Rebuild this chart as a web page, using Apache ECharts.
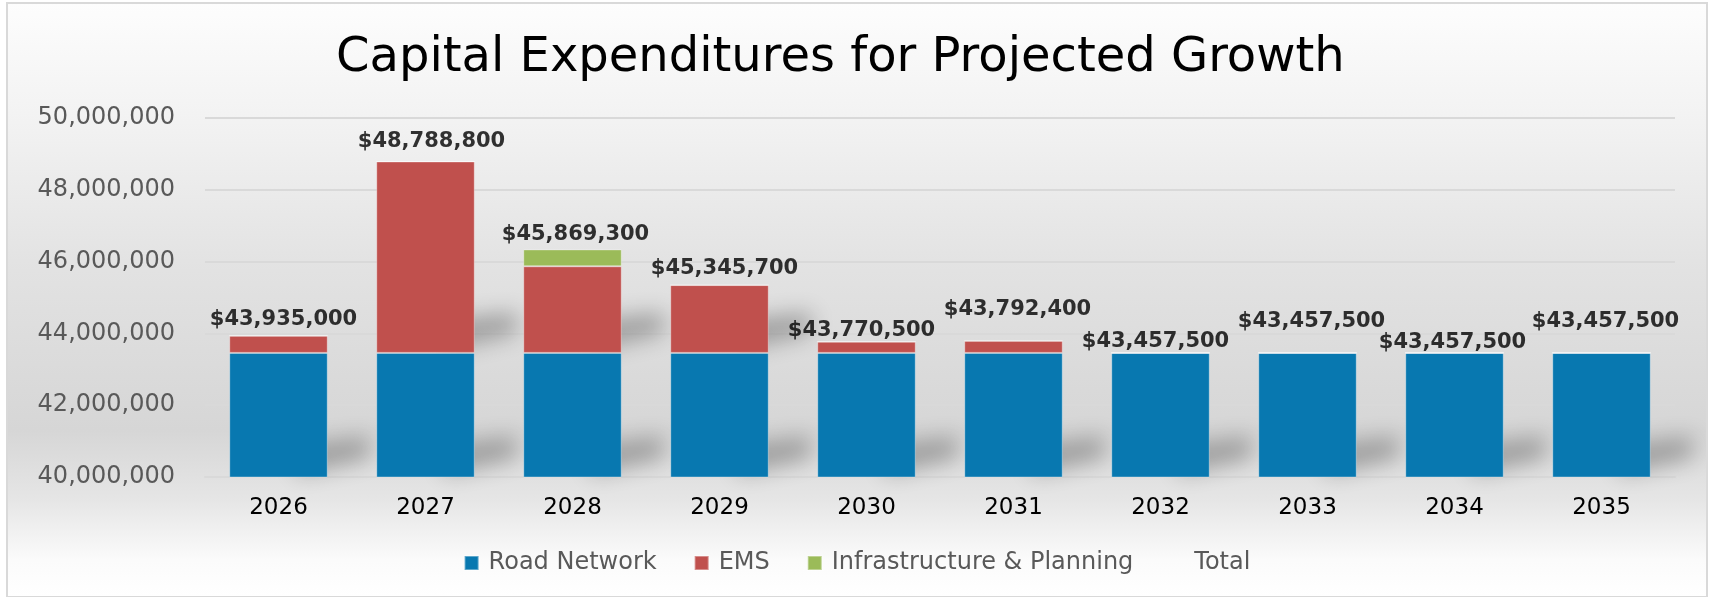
<!DOCTYPE html>
<html>
<head>
<meta charset="utf-8">
<script src="https://cdn.jsdelivr.net/npm/echarts@6/dist/echarts.min.js"></script>
<style>
  html, body { margin: 0; padding: 0; background: #fff; }
  #chart {
    position: absolute; left: 6px; top: 2px; width: 1698px; height: 592px;
    border: 2px solid #d9d9d9;
    background: linear-gradient(to bottom, #fdfdfd 0%, #f2f2f2 20%, #e2e2e2 45%, #d6d6d6 72%, #e6e6e6 84%, #fbfbfb 94%, #ffffff 100%);
  }
</style>
</head>
<body>
<div id="chart"></div>
<script>
// 年份与各类支出
const years = ['2026', '2027', '2028', '2029', '2030', '2031', '2032', '2033', '2034', '2035'];
const roadNetwork = [43457500, 43457500, 43457500, 43457500, 43457500, 43457500, 43457500, 43457500, 43457500, 43457500];
const ems = [477500, 5331300, 2411800, 1888200, 313000, 334900, 0, 0, 0, 0];
const infrastructure = [0, 0, 470000, 0, 0, 0, 0, 0, 0, 0];
const totals = [43935000, 48788800, 45869300, 45345700, 43770500, 43792400, 43457500, 43457500, 43457500, 43457500];

// 标签微调 (Excel 自动排版的位置)
const labelNudge = [[5, 0], [6, -3], [3, -15], [5, 0], [-5, 5], [4, -15], [-5, 5], [4, -15], [-2, 6], [4, -15]];

const fmt = v => v.toLocaleString('en-US');
const axisMin = 40000000;

// 阴影: 每个较高的柱段底部投下的斜影
const shadowSegs = [];
years.forEach((y, i) => {
  shadowSegs.push([i, axisMin]);
  if (ems[i] > 1000000) shadowSegs.push([i, roadNetwork[i]]);
});

const chart = echarts.init(document.getElementById('chart'));

const FAR = 3000; // 形状移到画布外, 只留下模糊的影子

const option = {
  animation: false,
  title: {
    text: 'Capital Expenditures for Projected Growth',
    left: 323,
    top: 26,
    textStyle: {
      fontFamily: 'DejaVu Sans',
      fontWeight: 'normal',
      fontSize: 48,
      color: '#000'
    }
  },
  legend: {
    bottom: 16,
    left: 'center',
    icon: 'rect',
    itemWidth: 14,
    itemHeight: 14,
    itemGap: 37,
    textStyle: { fontFamily: 'DejaVu Sans', fontSize: 24, color: '#595959', padding: [0, 0, 0, 5] },
    data: [
      { name: 'Road Network' },
      { name: 'EMS' },
      { name: 'Infrastructure & Planning' },
      { name: 'Total', itemStyle: { color: 'rgba(0,0,0,0)' } }
    ]
  },
  grid: { left: 197, right: 31, top: 114, bottom: 119 },
  xAxis: {
    type: 'category',
    data: years,
    axisTick: { show: false },
    axisLine: { lineStyle: { color: '#d9d9d9', width: 2 } },
    axisLabel: { color: '#000', fontSize: 23, fontFamily: 'DejaVu Sans', margin: 20 }
  },
  yAxis: {
    type: 'value',
    min: axisMin,
    max: 50000000,
    interval: 2000000,
    axisLine: { show: false },
    axisTick: { show: false },
    axisLabel: { color: '#595959', fontSize: 24, fontFamily: 'DejaVu Sans', margin: 30, formatter: fmt },
    splitLine: { lineStyle: { color: '#d9d9d9', width: 2 } }
  },
  series: [
    {
      type: 'custom',
      name: 'shadow',
      z: 1,
      silent: true,
      data: shadowSegs,
      renderItem: (params, api) => {
        const base = api.coord([api.value(0), api.value(1)]);
        const half = api.size([1, 0])[0] * 0.67 / 2;
        const x1 = base[0] + half - FAR;
        const yb = base[1];
        return {
          type: 'polygon',
          shape: { points: [[x1 - 30, yb - 3], [x1 + 42, yb - 20], [x1 + 42, yb - 40], [x1 - 30, yb - 32]] },
          style: {
            fill: '#000',
            shadowBlur: 22,
            shadowOffsetX: FAR,
            shadowColor: 'rgba(0,0,0,0.3)'
          }
        };
      }
    },
    {
      name: 'Road Network',
      type: 'bar',
      stack: 'cost',
      barCategoryGap: '33%',
      itemStyle: { color: '#0878b0', borderColor: 'rgba(255,255,255,0.35)', borderWidth: 1 },
      data: roadNetwork
    },
    {
      name: 'EMS',
      type: 'bar',
      stack: 'cost',
      itemStyle: { color: '#c0504d', borderColor: 'rgba(255,255,255,0.35)', borderWidth: 1 },
      data: ems
    },
    {
      name: 'Infrastructure & Planning',
      type: 'bar',
      stack: 'cost',
      itemStyle: { color: '#9bbb59', borderColor: 'rgba(255,255,255,0.35)', borderWidth: 1 },
      data: infrastructure
    },
    {
      name: 'Total',
      type: 'scatter',
      symbol: 'circle',
      symbolSize: 2,
      itemStyle: { color: 'rgba(0,0,0,0)' },
      z: 10,
      data: totals.map((v, i) => ({
        value: v,
        label: { offset: labelNudge[i] }
      })),
      label: {
        show: true,
        position: 'top',
        distance: 5,
        color: '#000',
        fontWeight: 'bold',
        fontSize: 21,
        fontFamily: 'DejaVu Sans',
        formatter: p => '$' + fmt(p.value)
      }
    }
  ]
};

chart.setOption(option);
</script>
</body>
</html>
